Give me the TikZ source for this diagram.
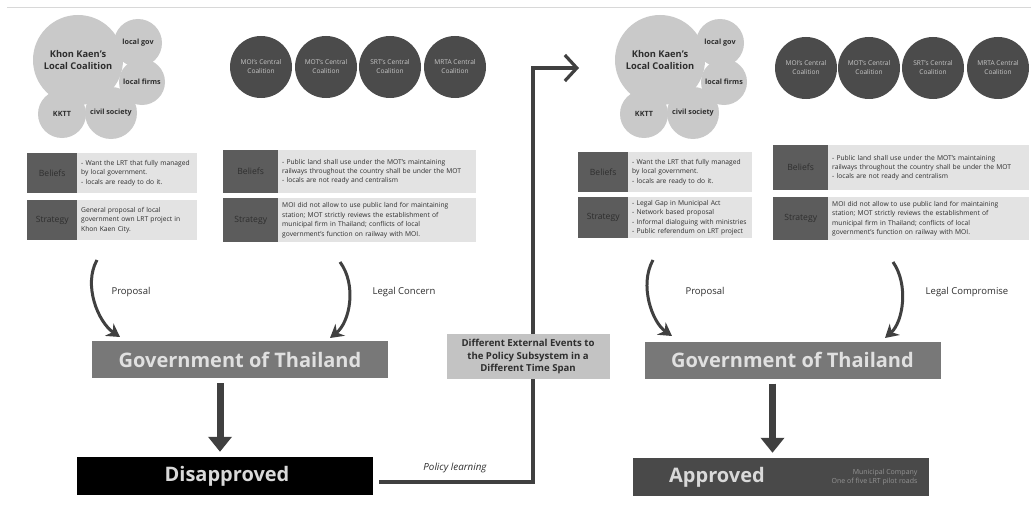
\documentclass[tikz,border=0pt]{standalone}
\usepackage{fontspec}
\setmainfont{Open Sans}
\usetikzlibrary{arrows.meta}

\definecolor{circlight}{HTML}{C9C9C9}
\definecolor{circdark}{HTML}{4B4B4B}
\definecolor{labfill}{HTML}{5C5C5C}
\definecolor{rowfill}{HTML}{E3E3E3}
\definecolor{govfill}{HTML}{787878}
\definecolor{appfill}{HTML}{494949}
\definecolor{extfill}{HTML}{C3C3C3}
\definecolor{inkdark}{HTML}{2E2E2E}
\definecolor{arrowink}{HTML}{404040}
\definecolor{rulegray}{HTML}{D8D8D8}

\begin{document}
\begin{tikzpicture}[x=1pt,y=-1pt,
  lightc/.style={circle,fill=circlight,inner sep=0pt,minimum size=#1,
    text=inkdark,align=center,font=\bfseries\fontsize{7.2}{8.4}\selectfont},
  bigc/.style={lightc=#1,font=\bfseries\fontsize{9.3}{11.5}\selectfont},
  darkc/.style={circle,fill=circdark,inner sep=0pt,minimum size=62pt,
    text=white!78!black,align=center,font=\fontsize{6.6}{9}\selectfont},
  tag/.style={fill=labfill,anchor=north west,inner sep=0pt,text=inkdark,
    font=\fontsize{8.6}{10}\selectfont},
  rowtext/.style={fill=rowfill,anchor=north west,inner ysep=0pt,inner xsep=4pt,
    align=left,text=inkdark,font=\fontsize{6.7}{9.4}\selectfont},
  govbox/.style={fill=govfill,minimum width=296pt,minimum height=37pt,
    text=white!88!black,font=\bfseries\fontsize{20}{23}\selectfont},
  resbox/.style={minimum width=296pt,minimum height=38pt},
  restext/.style={text=white!85!black,font=\bfseries\fontsize{20}{23}\selectfont},
  curvearrow/.style={draw=arrowink,line width=3pt,
    -{Stealth[length=13pt,width=15pt]}},
  blockarrow/.style={draw=arrowink,line width=7pt,shorten <=5pt,shorten >=5pt,
    -{Triangle[length=15pt,width=23pt]}},
  policyline/.style={draw=arrowink,line width=3.2pt,
    -{Straight Barb[length=12pt,width=26pt,line width=3.2pt]}},
  lbl/.style={text=inkdark,font=\fontsize{9.5}{11}\selectfont},
]
\useasboundingbox (0,0) rectangle (1031,511);
\fill[white] (0,0) rectangle (1031,511);

% thin rule along the top
\coordinate (ruleL) at (7,7);
\coordinate (ruleR) at (1031,7);
\draw[rulegray,line width=0.8pt] (ruleL) -- (ruleR);

% ---------------- local coalition clusters ----------------
\foreach \dx/\p in {0/l,582/r}{
  \begin{scope}[xshift=\dx]
    \node[lightc=48pt] (\p gov)   at (138,43)  {local gov};
    \node[lightc=46pt] (\p firm)  at (142,82)  {local firms};
    \node[lightc=48pt] (\p kktt)  at (62,114)  {KKTT};
    \node[lightc=52pt] (\p civil) at (111,113) {civil society};
    \node[bigc=90pt]   (\p big)   at (78,60)   {Khon Kaen's\\Local Coalition};
  \end{scope}
}

% ---------------- central coalitions ----------------
\node[darkc] (c1) at (261,67) {MOI's Central\\Coalition};
\node[darkc] (c2) at (326,67) {MOT's Central\\Coalition};
\node[darkc] (c3) at (390,67) {SRT's Central\\Coalition};
\node[darkc] (c4) at (455,67) {MRTA Central\\Coalition};

\node[darkc] (d1) at (806,68) {MOI's Central\\Coalition};
\node[darkc] (d2) at (869,68) {MOT's Central\\Coalition};
\node[darkc] (d3) at (933,68) {SRT's Central\\Coalition};
\node[darkc] (d4) at (998,68) {MRTA Central\\Coalition};

% ---------------- beliefs / strategy rows ----------------
% left, local coalition
\node[tag,minimum width=50pt,minimum height=40pt] (lbT) at (27,153) {Beliefs};
\node[rowtext,text width=112pt,minimum height=40pt] (lbX) at (77,153)
  {- Want the LRT that fully managed\\by local government.\\- locals are ready to do it.};
\node[tag,minimum width=50pt,minimum height=40pt] (lsT) at (27,200) {Strategy};
\node[rowtext,text width=112pt,minimum height=40pt] (lsX) at (77,200)
  {General proposal of local\\government own LRT project in\\Khon Kaen City.};

% left, central coalition
\node[tag,minimum width=55pt,minimum height=43pt] (cbT) at (223,150) {Beliefs};
\node[rowtext,text width=190pt,minimum height=43pt] (cbX) at (278,150)
  {- Public land shall use under the MOT's maintaining\\railways throughout the country shall be under the MOT\\- locals are not ready and centralism};
\node[tag,minimum width=55pt,minimum height=44pt] (csT) at (223,198) {Strategy};
\node[rowtext,text width=190pt,minimum height=44pt] (csX) at (278,198)
  {MOI did not allow to use public land for maintaining\\station; MOT strictly reviews the establishment of\\municipal firm in Thailand; conflicts of local\\government's function on railway with MOI.};

% right, local coalition
\node[tag,minimum width=50pt,minimum height=40pt] (rbT) at (578,152) {Beliefs};
\node[rowtext,text width=116pt,minimum height=40pt] (rbX) at (628,152)
  {- Want the LRT that fully managed\\by local government.\\- locals are ready to do it.};
\node[tag,minimum width=50pt,minimum height=41pt] (rsT) at (578,197) {Strategy};
\node[rowtext,text width=116pt,minimum height=41pt] (rsX) at (628,197)
  {- Legal Gap in Municipal Act\\- Network based proposal\\- Informal dialoguing with ministries\\- Public referendum on LRT project};

% right, central coalition
\node[tag,minimum width=55pt,minimum height=45pt] (dbT) at (773,145) {Beliefs};
\node[rowtext,text width=193pt,minimum height=45pt] (dbX) at (828,145)
  {- Public land shall use under the MOT's maintaining\\railways throughout the country shall be under the MOT\\- locals are not ready and centralism};
\node[tag,minimum width=55pt,minimum height=43pt] (dsT) at (773,197) {Strategy};
\node[rowtext,text width=193pt,minimum height=43pt] (dsX) at (828,197)
  {MOI did not allow to use public land for maintaining\\station; MOT strictly reviews the establishment of\\municipal firm in Thailand; conflicts of local\\government's function on railway with MOI.};

% ---------------- government and decisions ----------------
\node[govbox] (gov1) at (240,359.5) {Government of Thailand};
\node[govbox] (gov2) at (792.5,360) {Government of Thailand};

\node[resbox,fill=black] (dis1) at (225,476) {};
\node[restext] (disT) at (227,476) {Disapproved};
\node[resbox,fill=appfill] (app2) at (781,477) {};
\node[restext] (appT) at (717,477) {Approved};
\node[anchor=east,align=right,text=white!58!black,
  font=\fontsize{7}{9.4}\selectfont] (appN) at (921,477)
  {Municipal Company\\One of five LRT pilot roads};

% ---------------- curved arrows into the government ----------------
\coordinate (lpS) at (97,260);   \coordinate (lpE) at (120,337);
\coordinate (lcS) at (340,262);  \coordinate (lcE) at (330,338);
\coordinate (rpS) at (653,260);  \coordinate (rpE) at (672,336);
\coordinate (rcS) at (893,262);  \coordinate (rcE) at (885,338);
\draw[curvearrow] (lpS) .. controls (83,285) and (98,322) .. (lpE);
\draw[curvearrow] (lcS) .. controls (357,285) and (350,322) .. (lcE);
\draw[curvearrow] (rpS) .. controls (639,285) and (652,322) .. (rpE);
\draw[curvearrow] (rcS) .. controls (909,285) and (903,322) .. (rcE);

\node[lbl] (lpL) at (131,292) {Proposal};
\node[lbl] (lcL) at (404,292) {Legal Concern};
\node[lbl] (rpL) at (705,292) {Proposal};
\node[lbl] (rcL) at (967,292) {Legal Compromise};

% ---------------- block arrows to the decisions ----------------
\coordinate (da1) at ([xshift=-20pt]gov1.south);
\coordinate (da2) at ([xshift=-20pt]gov2.south);
\draw[blockarrow] (da1) -- (da1 |- dis1.north);
\draw[blockarrow] (da2) -- (da2 |- app2.north);

% ---------------- policy learning loop ----------------
\coordinate (plA) at (533,482);
\coordinate (plB) at (533,68);
\coordinate (plTip) at (579,68);
\draw[policyline] ([xshift=6pt,yshift=-6pt]dis1.east) -- (plA) -- (plB) -- (plTip);
\node[lbl,font=\itshape\fontsize{9.8}{11}\selectfont] (plL) at (455,468) {Policy learning};

\node[fill=extfill,minimum width=163pt,minimum height=45pt,align=center,
  text=inkdark,font=\bfseries\fontsize{9.6}{12.4}\selectfont] (ext) at (528,356.5)
  {Different External Events to\\the Policy Subsystem in a\\Different Time Span};
\end{tikzpicture}
\end{document}
